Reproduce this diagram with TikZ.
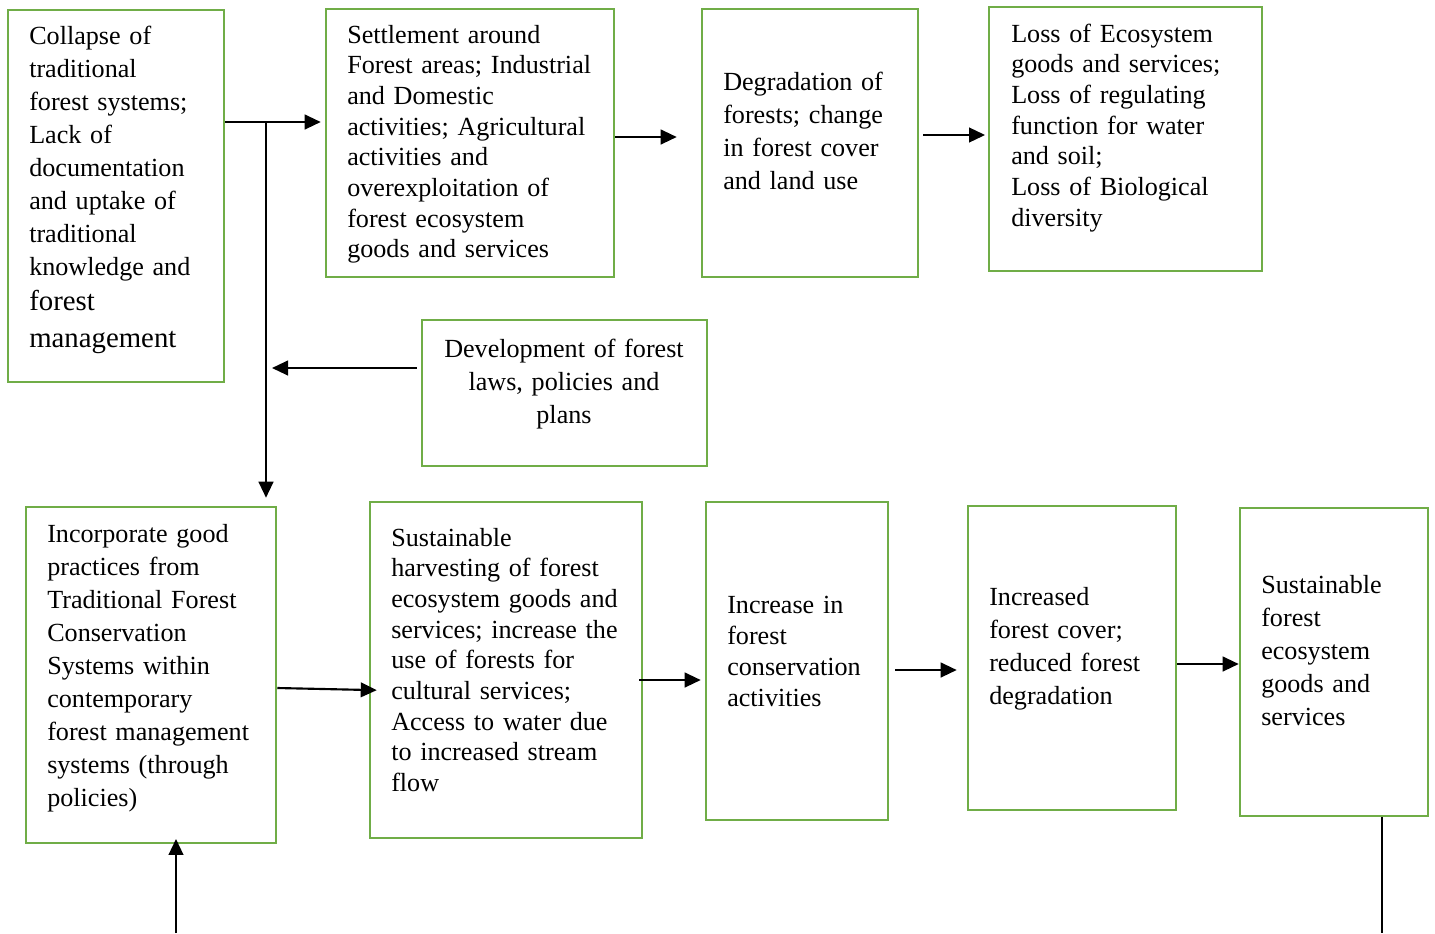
\documentclass[tikz,border=0pt]{standalone}
\usepackage{fontspec}
\setmainfont{Liberation Serif}
\usetikzlibrary{fit,arrows.meta}
\definecolor{boxgreen}{HTML}{70AD47}
\begin{document}
\begin{tikzpicture}[x=0.75pt,y=-0.75pt,
  box/.style={draw=boxgreen, line width=1.9pt, inner sep=0pt},
  txt/.style={inner sep=0pt, anchor=base west, align=left, text width=260pt,
    font=\fontsize{19.6}{23}\selectfont},
  txtwide/.style={txt, font=\fontsize{19.6}{24.75}\selectfont},
  arr/.style={line width=1.6pt, -{Triangle[length=12pt,width=11pt]}},
  plain/.style={line width=0.8pt}]
\useasboundingbox (0,0) rectangle (1435,933);

% upper row: causes and consequences
\node[box, fit={(8,10) (224,382)}] (b1) {};
\node[txtwide] (t1) at (29,44) {Collapse of\\ traditional\\ forest systems;\\ Lack of\\ documentation\\ and uptake of\\ traditional\\ knowledge and\\[2pt]
  {\fontsize{21.6}{24.75}\selectfont forest}\\[3pt] {\fontsize{21.6}{24.75}\selectfont management}};

\node[box, fit={(326,9) (614,277)}] (b2) {};
\node[txt] (t2) at (347,43) {Settlement around\\ Forest areas; Industrial\\ and Domestic\\ activities; Agricultural\\ activities and\\ overexploitation of\\ forest ecosystem\\ goods and services};

\node[box, fit={(702,9) (918,277)}] (b3) {};
\node[txtwide] (t3) at (723,90) {Degradation of\\ forests; change\\ in forest cover\\ and land use};

\node[box, fit={(989,7) (1262,271)}] (b4) {};
\node[txt] (t4) at (1011,42) {Loss of Ecosystem\\ goods and services;\\ Loss of regulating\\ function for water\\ and soil;\\ Loss of Biological\\ diversity};

% policy input
\node[box, fit={(422,320) (707,466)}] (b5) {};
\node[txt, anchor=base, align=center, text width=210pt, font=\fontsize{19.6}{25}\selectfont] (t5) at (564,357) {Development of forest\\ laws, policies and\\ plans};

% lower row: response and outcomes
\node[box, fit={(26,507) (276,843)}] (b6) {};
\node[txtwide] (t6) at (47,542) {Incorporate good\\ practices from\\ Traditional Forest\\ Conservation\\ Systems within\\ contemporary\\ forest management\\ systems (through\\ policies)};

\node[box, fit={(370,502) (642,838)}] (b7) {};
\node[txt] (t7) at (391,546) {Sustainable\\ harvesting of forest\\ ecosystem goods and\\ services; increase the\\ use of forests for\\ cultural services;\\ Access to water due\\ to increased stream\\ flow};

\node[box, fit={(706,502) (888,820)}] (b8) {};
\node[txt, font=\fontsize{19.6}{23.25}\selectfont] (t8) at (727,613) {Increase in\\ forest\\ conservation\\ activities};

\node[box, fit={(968,506) (1176,810)}] (b9) {};
\node[txtwide] (t9) at (989,605) {Increased\\ forest cover;\\ reduced forest\\ degradation};

\node[box, fit={(1240,508) (1428,816)}] (b10) {};
\node[txtwide] (t10) at (1261,593) {Sustainable\\ forest\\ ecosystem\\ goods and\\ services};

% connectors
\coordinate (j) at (266,122);
\coordinate (cin) at (176,933);
\coordinate (cout) at (1382,933);

\draw[arr, shorten >=3pt] (b1.east |- j) -- (b2.west |- j);
\draw[arr, shorten >=6pt] (j) -- (j |- b6.north);
\draw[arr, shorten <=3pt, shorten >=4.5pt] (b5.west |- 0,368) -- (j |- 0,368);
\draw[arr, shorten >=18pt] (b2.east |- 0,137) -- (b3.west |- 0,137);
\draw[arr, shorten <=3pt, shorten >=2pt] (b3.east |- 0,135) -- (b4.west |- 0,135);
\draw[arr, shorten >=-6pt] (b6.east |- 0,688) -- (b7.west |- 0,690);
\draw[arr, shorten <=-3pt, shorten >=3pt] (b7.east |- 0,680) -- (b8.west |- 0,680);
\draw[arr, shorten <=4.5pt, shorten >=7.5pt] (b8.east |- 0,670) -- (b9.west |- 0,670);
\draw[arr] (b9.east |- 0,664) -- (b10.west |- 0,664);
\draw[arr, shorten >=-4pt] (cin) -- (cin |- b6.south);
\draw[plain] (cout |- b10.south) -- (cout);
\end{tikzpicture}
\end{document}
